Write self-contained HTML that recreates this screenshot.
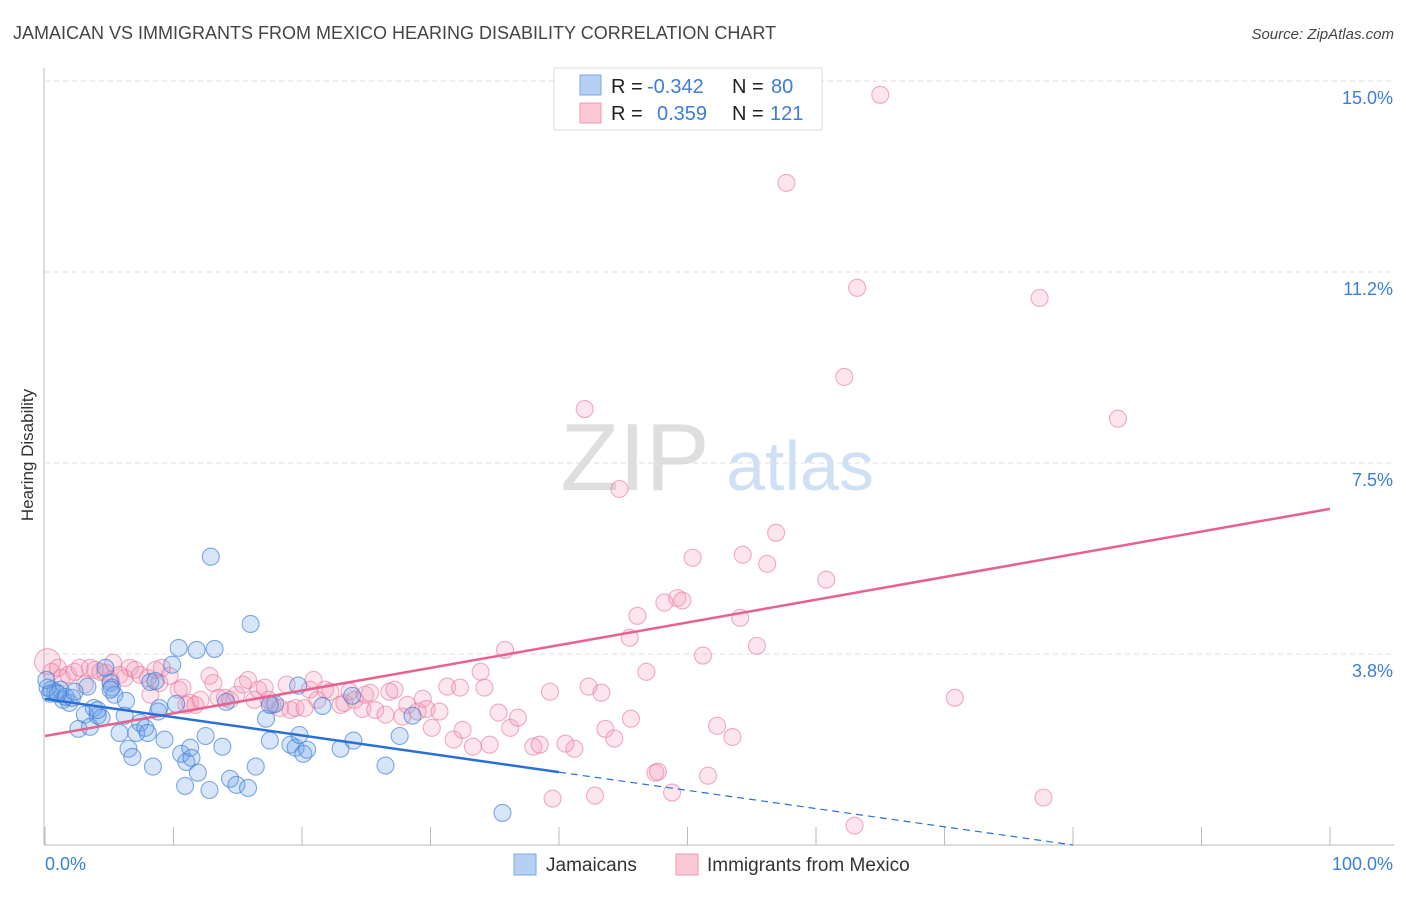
<!DOCTYPE html>
<html><head><meta charset="utf-8">
<style>
body{margin:0;background:#fff;width:1406px;height:892px;overflow:hidden;font-family:"Liberation Sans",sans-serif;}
svg text{font-family:"Liberation Sans",sans-serif;}
</style></head>
<body>
<svg id="chart" width="1406" height="892" xmlns="http://www.w3.org/2000/svg">
<text x="13" y="39" font-size="18" fill="#444">JAMAICAN VS IMMIGRANTS FROM MEXICO HEARING DISABILITY CORRELATION CHART</text>
<text x="1394" y="39" font-size="15" fill="#444" font-style="italic" text-anchor="end">Source: ZipAtlas.com</text>
<text transform="translate(33,455) rotate(-90)" font-size="17" fill="#333" text-anchor="middle">Hearing Disability</text>
<g>
<text x="635" y="490" font-size="96" fill="#dedede" font-family="Liberation Serif" text-anchor="middle">ZIP</text>
<text x="800" y="490" font-size="70" fill="#cfe0f4" text-anchor="middle">atlas</text>
</g>
<g id="grid"></g>
<g id="axes"></g>
<g id="pts"></g>
<g id="lines"></g>
<g>
<rect x="554" y="68" width="268" height="62" fill="#fff" stroke="#ddd"/>
<rect x="580" y="75" width="21" height="20" fill="#b5d0f2" stroke="#7aa9e6"/>
<rect x="580" y="103" width="21" height="20" fill="#fbc8d6" stroke="#ee9ab4"/>
<text x="611" y="93" font-size="20" fill="#222">R =</text>
<text x="647" y="93" font-size="20" fill="#3b7dd8">-0.342</text>
<text x="732" y="93" font-size="20" fill="#222">N =</text>
<text x="771" y="93" font-size="20" fill="#3b7dd8">80</text>
<text x="611" y="120" font-size="20" fill="#222">R =</text>
<text x="657" y="120" font-size="20" fill="#3b7dd8">0.359</text>
<text x="732" y="120" font-size="20" fill="#222">N =</text>
<text x="770" y="120" font-size="20" fill="#3b7dd8">121</text>
</g>
<g>
<rect x="514" y="854" width="22" height="21" fill="#b5d0f2" stroke="#7aa9e6"/>
<text x="546" y="871" font-size="19" fill="#333">Jamaicans</text>
<rect x="676" y="854" width="22" height="21" fill="#fbc8d6" stroke="#ee9ab4"/>
<text x="707" y="871" font-size="19" fill="#333">Immigrants from Mexico</text>
</g>
</svg>
<script>
const yTicks = [3.75, 7.5, 11.25, 15];
const yTickLabels = ["3.8%", "7.5%", "11.2%", "15.0%"];
const xTicks = [0,10,20,30,40,50,60,70,80,90,100];
const jamX = [0.5,0.8,1.2,0.2,1.4,1.9,1.6,2.1,2.6,3.1,3.3,3.5,3.8,4.1,4.4,4.7,5.1,5.2,5.4,5.8,6.2,6.3,6.5,6.8,7.1,7.4,7.8,8.0,8.2,8.4,8.6,8.8,8.9,9.3,9.9,10.2,10.4,10.6,10.9,11.0,11.3,11.4,11.8,11.9,12.5,12.8,12.9,13.2,13.8,14.1,14.4,14.9,15.8,16.0,16.4,17.2,17.5,17.9,19.1,19.5,19.7,19.8,20.1,20.4,21.6,23.0,23.9,24.0,26.5,27.6,28.6,35.6,0.1,0.4,1.0,2.3,4.1,5.1,17.5];
const jamY = [3.05,3.01,3.05,3.09,2.85,2.79,2.91,2.89,2.28,2.56,3.11,2.32,2.69,2.54,2.50,3.48,3.19,3.09,2.95,2.20,2.54,2.83,1.89,1.73,2.20,2.40,2.30,2.20,3.20,1.54,3.22,2.62,2.69,2.07,3.54,2.77,3.87,1.79,1.16,1.63,1.91,1.71,3.83,1.42,2.14,1.08,5.66,3.85,1.93,2.81,1.30,1.18,1.12,4.34,1.54,2.48,2.05,2.77,1.97,1.91,3.13,2.16,1.79,1.87,2.73,1.89,2.93,2.05,1.56,2.14,2.54,0.63,3.24,2.97,2.97,3.01,2.65,3.05,2.75];
const mexX = [0.2,0.5,1.0,1.3,1.8,2.3,2.7,3.1,3.5,3.9,4.3,4.7,5.1,5.3,5.8,6.2,6.6,7.0,7.4,8.0,8.2,8.6,8.9,9.1,9.7,10.4,10.7,11.0,11.3,11.7,12.1,12.8,13.1,13.5,14.0,14.4,14.9,15.4,15.8,16.3,16.6,17.1,17.4,17.7,18.3,18.8,19.1,19.5,20.2,20.6,20.9,21.2,21.8,22.2,23.0,23.3,23.7,24.1,24.7,24.9,25.3,25.7,26.5,26.8,27.2,27.8,28.2,29.0,29.4,29.7,30.1,30.7,31.3,31.8,32.3,32.5,33.3,33.9,34.2,34.6,35.3,35.8,36.2,36.8,38.0,38.5,39.3,39.5,40.5,41.2,42.0,42.3,42.8,43.3,43.6,44.3,44.7,45.5,45.6,46.1,46.8,47.5,47.7,48.2,48.8,49.2,49.6,50.4,51.2,51.6,52.3,53.5,54.1,54.3,55.4,56.2,56.9,57.7,60.8,62.2,63.0,63.2,65.0,70.8,77.4,77.7,83.5];
const mexY = [3.60,3.40,3.48,3.28,3.34,3.40,3.48,3.15,3.48,3.44,3.40,3.38,3.24,3.58,3.34,3.28,3.48,3.44,3.34,3.28,2.95,3.44,3.18,3.48,3.32,3.05,3.09,2.75,2.79,2.75,2.85,3.32,3.18,2.89,2.89,2.85,2.95,3.15,3.24,2.85,3.05,3.09,2.85,2.75,2.69,3.15,2.65,2.69,2.69,3.05,3.24,2.85,3.05,3.01,2.75,2.79,3.01,2.85,2.67,2.95,2.99,2.65,2.56,3.01,3.05,2.52,2.75,2.62,2.87,2.67,2.30,2.62,3.11,2.07,3.09,2.26,1.93,3.40,3.09,1.97,2.60,3.83,2.30,2.50,1.93,1.97,3.01,0.91,1.99,1.89,8.56,3.11,0.97,2.99,2.28,2.09,6.99,4.07,2.48,4.50,3.40,1.42,1.44,4.76,1.03,4.85,4.80,5.64,3.72,1.36,2.34,2.12,4.46,5.70,3.91,5.52,6.13,13.00,5.21,9.19,0.38,10.94,14.73,2.89,10.74,0.93,8.37];
const jamTrend = [2.87, 1.43, 0.0];
const jamTrendX = [0, 40, 80];
const mexTrend = [2.14, 6.60];
const mexTrendX = [0, 100];

const NS = "http://www.w3.org/2000/svg";
const xs = v => 45 + v * 12.85;
const ys = v => 845 - v * 50.93;
function mk(tag, attrs, parent){const e=document.createElementNS(NS,tag);for(const k in attrs)e.setAttribute(k,attrs[k]);parent.appendChild(e);return e;}
const grid=document.getElementById('grid'), axes=document.getElementById('axes'), pts=document.getElementById('pts'), lines=document.getElementById('lines');

yTicks.forEach((t,i)=>{
  const l=mk('line',{x1:45,x2:1394,y1:ys(t),y2:ys(t),stroke:'#dcdcdc','stroke-dasharray':'5,4'},grid);
  
  
  const tx=mk('text',{x:1393,y:ys(t)+23,'font-size':18,fill:'#3b7dd8','text-anchor':'end'},axes);
  tx.textContent=yTickLabels[i];
  
  
});
const ax=mk('line',{x1:44,x2:44,y1:68,y2:845,stroke:'#bbb'},axes);


const bx=mk('line',{x1:44,x2:1394,y1:845,y2:845,stroke:'#bbb'},axes);


xTicks.forEach(t=>{
  const tk=mk('line',{x1:xs(t),x2:xs(t),y1:827,y2:845,stroke:'#bbb'},axes);
  
  
});
const x0=mk('text',{x:45,y:870,'font-size':18,fill:'#3b7dd8'},axes);x0.textContent='0.0%';


const x1=mk('text',{x:1393,y:870,'font-size':18,fill:'#3b7dd8','text-anchor':'end'},axes);x1.textContent='100.0%';



mexX.forEach((x,i)=>{
  const c=mk('circle',{cx:xs(x),cy:ys(mexY[i]),r:i===0?13:8.5,fill:'rgba(244,150,180,0.25)',stroke:'rgba(230,120,155,0.6)','stroke-width':1.1},pts);
  
  
});
jamX.forEach((x,i)=>{
  const c=mk('circle',{cx:xs(x),cy:ys(jamY[i]),r:8.5,fill:'rgba(110,160,230,0.28)',stroke:'rgba(60,125,215,0.65)','stroke-width':1.1},pts);
  
  
});

const ms=mk('line',{x1:xs(mexTrendX[0]),y1:ys(mexTrend[0]),x2:xs(mexTrendX[1]),y2:ys(mexTrend[1]),stroke:'#e8608e','stroke-width':2.5},lines);


const js=mk('line',{x1:xs(jamTrendX[0]),y1:ys(jamTrend[0]),x2:xs(jamTrendX[1]),y2:ys(jamTrend[1]),stroke:'#2a6fd6','stroke-width':2.5},lines);


const jd=mk('line',{x1:xs(jamTrendX[1]),y1:ys(jamTrend[1]),x2:xs(jamTrendX[2]),y2:ys(jamTrend[2]),stroke:'#2a6fd6','stroke-width':1.2,'stroke-dasharray':'7,5'},lines);


</script>
</body></html>
